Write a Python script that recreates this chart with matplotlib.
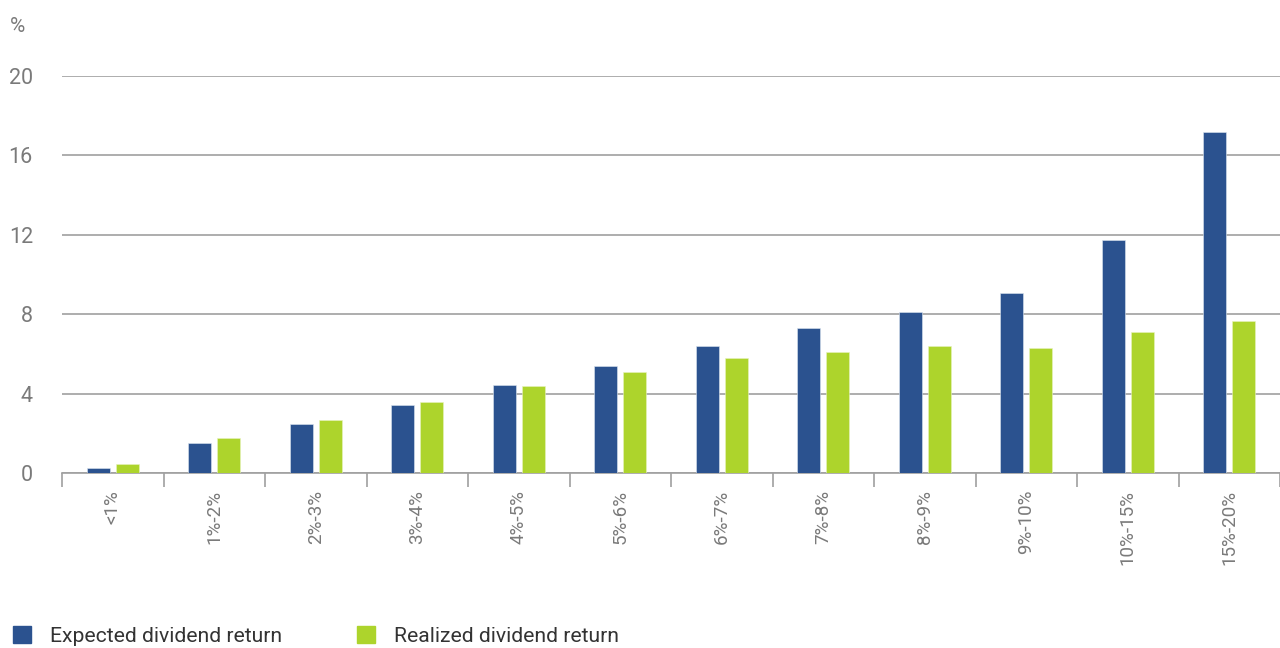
import numpy as np
import matplotlib
matplotlib.use("Agg")
import matplotlib.pyplot as plt
from matplotlib.patches import Patch

plt.rcParams['font.family'] = ['Roboto', 'DejaVu Sans']

# 数据
categories = ["<1%", "1%-2%", "2%-3%", "3%-4%", "4%-5%", "5%-6%",
              "6%-7%", "7%-8%", "8%-9%", "9%-10%", "10%-15%", "15%-20%"]
expected = [0.24, 1.50, 2.45, 3.44, 4.43, 5.39, 6.40, 7.30, 8.11, 9.05, 11.74, 17.16]
realized = [0.44, 1.75, 2.67, 3.56, 4.38, 5.09, 5.79, 6.10, 6.38, 6.28, 7.09, 7.66]
yticks = [0, 4, 8, 12, 16, 20]

BLUE = "#2B528F"
GREEN = "#ADD42C"
GRID = "#A0A0A0"
TICK = "#7A7A7A"

W, H = 1280, 648
fig = plt.figure(figsize=(W / 100, H / 100), dpi=100)
ax = fig.add_axes([62 / W, (H - 473) / H, 1 - 62 / W, (473 - 76) / H])

x = np.arange(len(categories))
bw = 0.227
off = 0.143
ax.bar(x - off, expected, bw, color=BLUE, edgecolor="#dde6f0", linewidth=0.4, zorder=3)
ax.bar(x + off, realized, bw, color=GREEN, edgecolor="#e8f3c0", linewidth=0.4, zorder=3)

ax.set_xlim(-0.5, len(categories) - 0.5)
ax.set_ylim(0, 20)

# 网格线
ax.set_yticks(yticks)
ax.yaxis.grid(True, color=GRID, linewidth=1.2, zorder=0)
ax.set_axisbelow(True)
for s in ["top", "right", "left"]:
    ax.spines[s].set_visible(False)
ax.spines["bottom"].set_color(GRID)
ax.spines["bottom"].set_linewidth(1.2)

ax.tick_params(axis="y", length=0, pad=21, labelsize=15.5, labelcolor=TICK)

# x轴: 类别之间的刻度
ax.set_xticks(np.arange(len(categories) + 1) - 0.5)
ax.set_xticklabels([])
ax.tick_params(axis="x", which="major", length=10, width=1.2, color=GRID, direction="out")
ax.set_xticks(x, minor=True)
ax.set_xticklabels(categories, minor=True, rotation=90, fontsize=13.5, color=TICK)
ax.tick_params(axis="x", which="minor", length=0, pad=12)

fig.text(10 / W, 1 - 27 / H, "%", fontsize=15, color=TICK, va="center", ha="left")

handles = [Patch(color=BLUE, label="Expected dividend return"),
           Patch(color=GREEN, label="Realized dividend return")]
fig.legend(handles=handles, loc="center left", bbox_to_anchor=(0.0, 12 / H),
           ncol=2, frameon=False, fontsize=15.2, handlelength=0.85, handleheight=0.85,
           handletextpad=0.9, columnspacing=3.55, labelcolor="#333333", borderaxespad=0.2)

fig.savefig("out.png", dpi=100)
